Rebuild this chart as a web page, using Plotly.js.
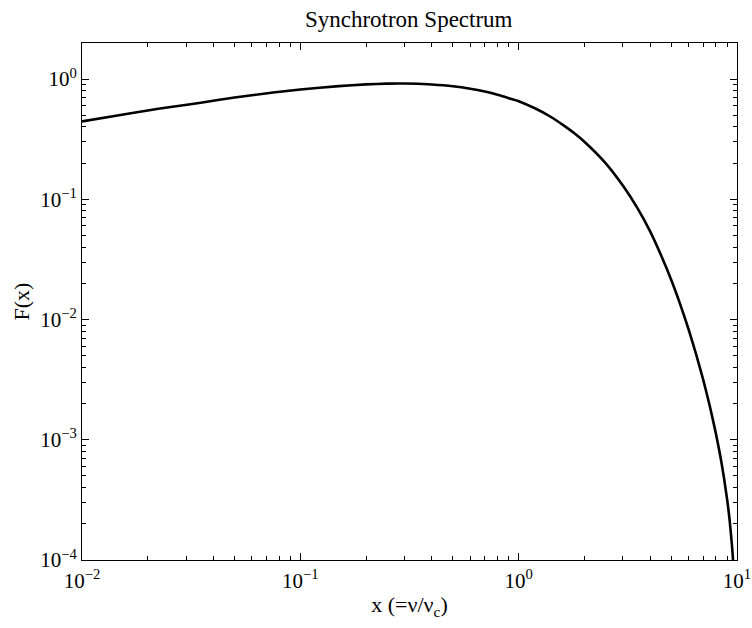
<!DOCTYPE html>
<html>
<head>
<meta charset="utf-8">
<script src="https://cdn.plot.ly/plotly-3.0.1.min.js"></script>
<style>html,body{margin:0;padding:0;background:#fff;}#chart{width:752px;height:628px;}</style>
</head>
<body>
<div id="chart"></div>
<script>
// x = nu / nu_c, F(x)
const xValues = [0.01, 0.015, 0.02, 0.025, 0.035, 0.05, 0.075, 0.1, 0.15, 0.2, 0.25, 0.3, 0.4, 0.5, 0.6, 0.7, 0.8, 0.9, 1.0,
  1.2, 1.4, 1.6, 1.8, 2.0, 2.5, 3.0, 3.5, 4.0, 4.5, 5.0, 5.5, 6.0, 6.5, 7.0, 7.5, 8.0, 8.5, 9.0, 9.25, 9.5, 9.6, 9.7, 9.8];
const fValues = [0.445, 0.502, 0.548, 0.583, 0.636, 0.702, 0.772, 0.818, 0.874, 0.904, 0.917, 0.919, 0.901, 0.872, 0.832, 0.788, 0.742, 0.694, 0.655,
  0.566, 0.486, 0.414, 0.354, 0.301, 0.200, 0.130, 0.0845, 0.0541, 0.0339, 0.0213, 0.0133, 0.0083, 0.00513, 0.00316, 0.00192, 0.00113, 0.000637, 0.000324, 0.000215, 0.000127, 0.000097, 0.000069, 0.000044];

const xTickVals = [0.01, 0.1, 1, 10];
const xTickText = ['10<sup>−2</sup>', '10<sup>−1</sup>', '10<sup>0</sup>', '10<sup>1</sup>'];
const yTickVals = [0.0001, 0.001, 0.01, 0.1, 1];
const yTickText = ['10<sup>−4</sup>', '10<sup>−3</sup>', '10<sup>−2</sup>', '10<sup>−1</sup>', '10<sup>0</sup>'];

const family = 'Liberation Serif, Times New Roman, serif';
const tickFont = {family: family, size: 21, color: '#000'};
const titleFont = {family: family, size: 22, color: '#000'};

const axisCommon = {
  type: 'log',
  tickmode: 'array',
  showgrid: false,
  zeroline: false,
  showline: true,
  linecolor: '#000',
  linewidth: 1,
  mirror: 'ticks',
  ticks: 'inside',
  ticklen: 7,
  tickwidth: 1,
  tickcolor: '#000',
  tickfont: tickFont,
  minor: {dtick: 'D1', ticks: 'inside', ticklen: 4, tickwidth: 1, tickcolor: '#000', showgrid: false}
};

const data = [{
  x: xValues,
  y: fValues,
  type: 'scatter',
  mode: 'lines',
  line: {color: '#000', width: 2.6, shape: 'spline', smoothing: 0.6},
  hoverinfo: 'x+y'
}];

const layout = {
  width: 752,
  height: 628,
  paper_bgcolor: '#fff',
  plot_bgcolor: '#fff',
  margin: {l: 82, r: 15, t: 43, b: 68},
  showlegend: false,
  font: tickFont,
  title: {text: 'Synchrotron Spectrum', font: {family: family, size: 23, color: '#000'}, x: 0.5435, xanchor: 'center', y: 0.97, yanchor: 'middle'},
  xaxis: Object.assign({}, axisCommon, {
    range: [-2, 1],
    tickvals: xTickVals,
    ticktext: xTickText,
    ticklabelstandoff: 2,
    title: {text: 'x (=ν/ν<sub>c</sub>)', font: titleFont, standoff: 4}
  }),
  yaxis: Object.assign({}, axisCommon, {
    range: [-4, 0.3],
    tickvals: yTickVals,
    ticktext: yTickText,
    title: {text: 'F(x)', font: titleFont, standoff: 4}
  })
};

Plotly.newPlot('chart', data, layout, {displayModeBar: false, staticPlot: true});
</script>
</body>
</html>
